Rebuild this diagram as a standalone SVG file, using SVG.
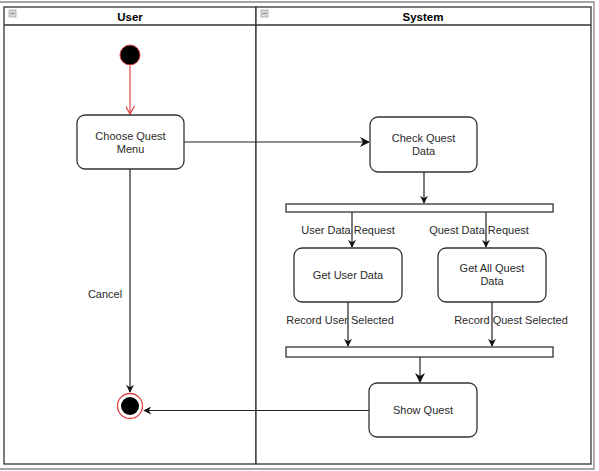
<svg xmlns="http://www.w3.org/2000/svg" width="599" height="471" viewBox="0 0 599 471">
<style>
text{font-family:"Liberation Sans",Arial,sans-serif;font-size:11px;fill:#2a2a2a;}
.title{font-weight:bold;font-size:11.5px;fill:#000;}
.lane{fill:#fff;stroke:#333;stroke-width:1.3;}
.node{fill:#fff;stroke:#333;stroke-width:1.3;}
.bar{fill:#fff;stroke:#333;stroke-width:1.3;}
.icon{fill:#d6d6d6;stroke:#aaa;stroke-width:0.8;}
.edge{fill:none;stroke:#222;stroke-width:1.2;}
.lbl{text-anchor:middle;}
</style>
<defs>
<marker id="arr" viewBox="0 0 10 10" refX="9" refY="5" markerWidth="8" markerHeight="8" orient="auto" markerUnits="userSpaceOnUse">
<path d="M0,0 L10,5 L0,10 L3,5 Z" fill="#111"/>
</marker>
<marker id="arrb" viewBox="0 0 10 10" refX="9" refY="5" markerWidth="10" markerHeight="10" orient="auto" markerUnits="userSpaceOnUse">
<path d="M0,0 L10,5 L0,10 L3,5 Z" fill="#111"/>
</marker>
<marker id="open" viewBox="0 0 10 10" refX="9" refY="5" markerWidth="9" markerHeight="9" orient="auto" markerUnits="userSpaceOnUse">
<path d="M0,0 L9,5 L0,10" fill="none" stroke="#e04040" stroke-width="1.4"/>
</marker>
</defs>
<rect width="599" height="471" fill="#fff"/>
<path d="M0,2 H594 V469 H0" fill="none" stroke="#888" stroke-width="1.3"/>
<g id="lane-user">
<rect class="lane" x="4" y="7" width="252" height="457"/>
<line x1="4" y1="25" x2="256" y2="25" stroke="#333" stroke-width="1.3"/>
<rect class="icon" x="9" y="10" width="7" height="7"/>
<line x1="10.5" y1="13.5" x2="14.5" y2="13.5" stroke="#888" stroke-width="1"/>
<text class="title lbl" x="130" y="21">User</text>
</g>
<g id="lane-system">
<rect class="lane" x="256" y="7" width="335" height="457"/>
<line x1="256" y1="25" x2="591" y2="25" stroke="#333" stroke-width="1.3"/>
<rect class="icon" x="261" y="10" width="7" height="7"/>
<line x1="262.5" y1="13.5" x2="266.5" y2="13.5" stroke="#888" stroke-width="1"/>
<text class="title lbl" x="423" y="21">System</text>
</g>
<g id="connectors">
<line x1="130" y1="66" x2="130" y2="114" stroke="#e04040" stroke-width="1.2" marker-end="url(#open)"/>
<line class="edge" x1="184" y1="142" x2="369" y2="142" stroke-width="1.8" marker-end="url(#arrb)"/>
<line class="edge" x1="424" y1="172" x2="424" y2="203" marker-end="url(#arr)"/>
<line class="edge" x1="352" y1="212" x2="352" y2="247" marker-end="url(#arr)"/>
<line class="edge" x1="486" y1="212" x2="486" y2="247" marker-end="url(#arr)"/>
<line class="edge" x1="348" y1="302" x2="348" y2="346" marker-end="url(#arr)"/>
<line class="edge" x1="492" y1="302" x2="492" y2="346" marker-end="url(#arr)"/>
<line class="edge" x1="420" y1="357" x2="420" y2="382" stroke-width="1.6" marker-end="url(#arrb)"/>
<line class="edge" x1="369" y1="410.5" x2="144" y2="410.5" marker-end="url(#arr)"/>
<line class="edge" x1="130" y1="169" x2="130" y2="392" marker-end="url(#arr)"/>
<text class="lbl" x="105" y="298">Cancel</text>
<text class="lbl" x="348" y="234">User Data Request</text>
<text class="lbl" x="479" y="234">Quest Data Request</text>
<text class="lbl" x="340" y="324">Record User Selected</text>
<text class="lbl" x="511" y="324">Record Quest Selected</text>
</g>
<g id="start">
<circle cx="130" cy="55" r="10" fill="#000" stroke="#e04040" stroke-width="1"/>
</g>
<g id="choose-quest-menu">
<rect class="node" x="77" y="115" width="107" height="54" rx="8"/>
<text class="lbl" x="130.5" y="140">Choose Quest</text>
<text class="lbl" x="130.5" y="153">Menu</text>
</g>
<g id="check-quest-data">
<rect class="node" x="370" y="117" width="107" height="55" rx="8"/>
<text class="lbl" x="423.5" y="142">Check Quest</text>
<text class="lbl" x="423.5" y="155">Data</text>
</g>
<g id="fork">
<rect class="bar" x="286" y="204" width="267" height="8"/>
</g>
<g id="get-user-data">
<rect class="node" x="294" y="248" width="108" height="54" rx="8"/>
<text class="lbl" x="348" y="279">Get User Data</text>
</g>
<g id="get-all-quest-data">
<rect class="node" x="438" y="248" width="108" height="54" rx="8"/>
<text class="lbl" x="492" y="272">Get All Quest</text>
<text class="lbl" x="492" y="285">Data</text>
</g>
<g id="join">
<rect class="bar" x="286" y="347" width="267" height="10"/>
</g>
<g id="show-quest">
<rect class="node" x="369" y="383" width="108" height="54" rx="8"/>
<text class="lbl" x="423" y="414">Show Quest</text>
</g>
<g id="end">
<circle cx="130" cy="406" r="12.5" fill="#fff" stroke="#e04040" stroke-width="1.3"/>
<circle cx="130" cy="406" r="9" fill="#000"/>
</g>
</svg>
